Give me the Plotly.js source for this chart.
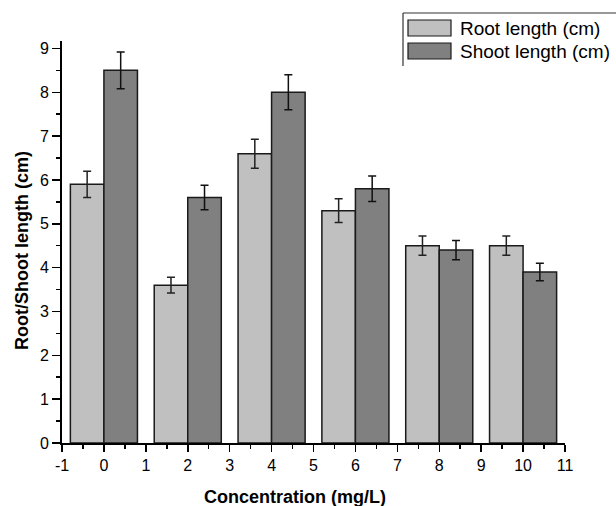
<!DOCTYPE html>
<html>
<head>
<meta charset="utf-8">
<script src="https://cdn.plot.ly/plotly-3.0.1.min.js"></script>
<style>html,body{margin:0;padding:0;background:#fff;}#chart{width:616px;height:506px;}</style>
</head>
<body>
<div id="chart"></div>
<script>
// Data
const concentrations = [0, 2, 4, 6, 8, 10];
const rootLength = [5.9, 3.6, 6.6, 5.3, 4.5, 4.5];
const rootError = [0.30, 0.18, 0.33, 0.27, 0.22, 0.22];
const shootLength = [8.5, 5.6, 8.0, 5.8, 4.4, 3.9];
const shootError = [0.42, 0.28, 0.40, 0.29, 0.22, 0.20];
const seriesNames = ["Root length (cm)", "Shoot length (cm)"];
const xTickVals = [-1, 0, 1, 2, 3, 4, 5, 6, 7, 8, 9, 10, 11];
const xTickLabels = ["-1", "0", "1", "2", "3", "4", "5", "6", "7", "8", "9", "10", "11"];
const xTitle = "Concentration (mg/L)";
const yTitle = "Root/Shoot length (cm)";

const FONT = "Liberation Sans, Arial, sans-serif";
const rootColor = "#c0c0c0";
const shootColor = "#808080";
const edge = "#1a1a1a";

// plot area pixel geometry (for paper-coordinate helpers)
const L = 62, T = 41, W = 503, H = 402;
const px = x => (x - L) / W;
const py = y => (T + H - y) / H;

const traces = [
  {
    type: "bar", name: seriesNames[0], x: concentrations, y: rootLength,
    marker: {color: rootColor, line: {color: edge, width: 1.5}},
    error_y: {type: "data", array: rootError, visible: true, color: "#222", thickness: 1.5, width: 4},
    showlegend: false
  },
  {
    type: "bar", name: seriesNames[1], x: concentrations, y: shootLength,
    marker: {color: shootColor, line: {color: edge, width: 1.5}},
    error_y: {type: "data", array: shootError, visible: true, color: "#111", thickness: 1.5, width: 4},
    showlegend: false
  }
];

const shapes = [
  // legend frame (clipped at right in reference)
  {type: "line", xref: "paper", yref: "paper", x0: px(403), x1: px(620), y0: py(13), y1: py(13), line: {color: "#333", width: 1.2}},
  {type: "line", xref: "paper", yref: "paper", x0: px(403), x1: px(403), y0: py(13), y1: py(66), line: {color: "#333", width: 1.2}},
  // legend swatches
  {type: "rect", xref: "paper", yref: "paper", x0: px(408), x1: px(451), y0: py(20), y1: py(36), fillcolor: rootColor, line: {color: edge, width: 1.2}},
  {type: "rect", xref: "paper", yref: "paper", x0: px(408), x1: px(451), y0: py(43), y1: py(59), fillcolor: shootColor, line: {color: edge, width: 1.2}}
];

const annotations = [
  {xref: "paper", yref: "paper", x: px(458), y: py(28), xanchor: "left", yanchor: "middle", showarrow: false,
   text: seriesNames[0], font: {family: FONT, size: 19, color: "#000"}},
  {xref: "paper", yref: "paper", x: px(458), y: py(51), xanchor: "left", yanchor: "middle", showarrow: false,
   text: seriesNames[1], font: {family: FONT, size: 19, color: "#000"}},
  {xref: "paper", yref: "paper", x: px(295), y: py(497), xanchor: "center", yanchor: "middle", showarrow: false,
   text: "<b>" + xTitle + "</b>", font: {family: FONT, size: 18, color: "#000"}},
  {xref: "paper", yref: "paper", x: px(22), y: py(251), xanchor: "center", yanchor: "middle", showarrow: false, textangle: -90,
   text: "<b>" + yTitle + "</b>", font: {family: FONT, size: 18, color: "#000"}}
];

const layout = {
  width: 616, height: 506,
  margin: {l: L, r: 616 - L - W, t: T, b: 506 - T - H, pad: 0},
  paper_bgcolor: "#fff", plot_bgcolor: "#fff",
  barmode: "group", bargap: 0.2, bargroupgap: 0,
  font: {family: FONT, size: 16, color: "#000"},
  xaxis: {
    range: [-1, 11], tickmode: "array", tickvals: xTickVals, ticktext: xTickLabels,
    showgrid: false, zeroline: false,
    showline: true, linecolor: "#000", linewidth: 2,
    ticks: "outside", ticklen: 7, tickwidth: 1.5, tickcolor: "#000",
    minor: {ticks: "outside", dtick: 0.5, tick0: -1, ticklen: 4, tickwidth: 1.5, tickcolor: "#000", showgrid: false},
    tickfont: {family: FONT, size: 16, color: "#000"}
  },
  yaxis: {
    range: [0, 9.17], tickmode: "linear", tick0: 0, dtick: 1,
    showgrid: false, zeroline: false,
    showline: true, linecolor: "#000", linewidth: 2,
    ticks: "outside", ticklen: 8, tickwidth: 1.5, tickcolor: "#000",
    minor: {ticks: "outside", dtick: 0.5, tick0: 0, ticklen: 4, tickwidth: 1.5, tickcolor: "#000", showgrid: false},
    tickfont: {family: FONT, size: 16, color: "#000"}
  },
  shapes: shapes,
  annotations: annotations,
  showlegend: false
};

Plotly.newPlot("chart", traces, layout, {displayModeBar: false, staticPlot: true});
</script>
</body>
</html>
